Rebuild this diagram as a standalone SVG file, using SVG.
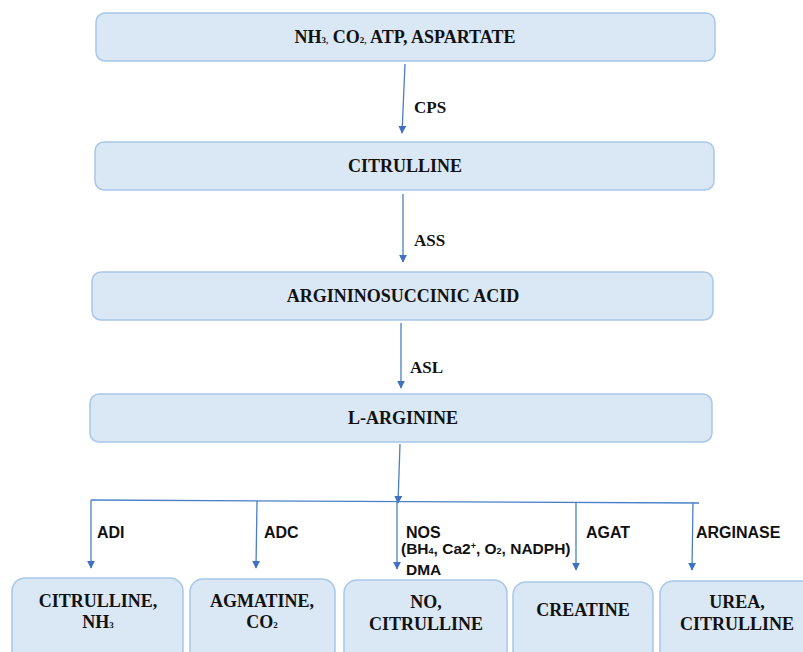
<svg xmlns="http://www.w3.org/2000/svg" width="803" height="652" viewBox="0 0 803 652">
<style>
.box{fill:#dae7f4;stroke:#a7c8e8;stroke-width:1.5}
.t{font-family:"Liberation Serif","Times New Roman",serif;font-weight:bold;font-size:18px;fill:#111;text-anchor:middle}
.lbl{font-family:"Liberation Serif","Times New Roman",serif;font-weight:bold;font-size:17px;fill:#111}
.sl{font-family:"Liberation Sans",Arial,sans-serif;font-weight:bold;font-size:16px;fill:#111}
.sm{font-family:"Liberation Sans",Arial,sans-serif;font-weight:bold;font-size:15.5px;fill:#111}
.c{fill:none;stroke:#4a7fc8;stroke-width:1.3}
</style>
<defs>
<marker id="ah" viewBox="0 0 10 10" refX="9" refY="5" markerWidth="8" markerHeight="8" markerUnits="userSpaceOnUse" orient="auto">
<path d="M0,0 L10,5 L0,10 Z" fill="#3d72c2"/>
</marker>
</defs>
<rect width="803" height="652" fill="#fff"/>
<g id="n1"><rect class="box" x="96" y="13" width="619" height="48" rx="9"/>
<text class="t" x="405" y="43" font-size="18.5">NH<tspan font-size="9">3,</tspan> CO<tspan font-size="9">2,</tspan> ATP, ASPARTATE</text></g>
<g id="n2"><rect class="box" x="95" y="142" width="619" height="48" rx="9"/>
<text class="t" x="405" y="172">CITRULLINE</text></g>
<g id="n3"><rect class="box" x="92" y="272" width="621" height="48" rx="9"/>
<text class="t" x="403" y="302">ARGININOSUCCINIC ACID</text></g>
<g id="n4"><rect class="box" x="90" y="394" width="622" height="48" rx="9"/>
<text class="t" x="403" y="424">L-ARGININE</text></g>
<g id="n5"><rect class="box" x="12" y="578" width="171" height="90" rx="13"/>
<text class="t" x="98" y="607">CITRULLINE,</text>
<text class="t" x="98" y="628">NH<tspan font-size="9">3</tspan></text></g>
<g id="n6"><rect class="box" x="190" y="579" width="145" height="90" rx="13"/>
<text class="t" x="262" y="607">AGMATINE,</text>
<text class="t" x="262" y="628">CO<tspan font-size="9">2</tspan></text></g>
<g id="n7"><rect class="box" x="344" y="580" width="163" height="90" rx="13"/>
<text class="t" x="426" y="608">NO,</text>
<text class="t" x="426" y="630">CITRULLINE</text></g>
<g id="n8"><rect class="box" x="513" y="582" width="140" height="90" rx="13"/>
<text class="t" x="583" y="616">CREATINE</text></g>
<g id="n9"><rect class="box" x="660" y="581" width="160" height="90" rx="13"/>
<text class="t" x="737" y="608">UREA,</text>
<text class="t" x="737" y="630">CITRULLINE</text></g>
<g id="connectors">
<path class="c" d="M405,64 L402,133" marker-end="url(#ah)"/>
<path class="c" d="M403,194 L403,262" marker-end="url(#ah)"/>
<path class="c" d="M401,323 L401,388" marker-end="url(#ah)"/>
<path class="c" d="M400,444 L398,503" marker-end="url(#ah)"/>
<path class="c" d="M91,500 L699,503"/>
<path class="c" d="M91,500 L91,568" marker-end="url(#ah)"/>
<path class="c" d="M257,501 L256,568" marker-end="url(#ah)"/>
<path class="c" d="M397,502 L397,569" marker-end="url(#ah)"/>
<path class="c" d="M576,503 L576,570" marker-end="url(#ah)"/>
<path class="c" d="M693,503 L692,570" marker-end="url(#ah)"/>
<text class="lbl" x="414" y="113">CPS</text>
<text class="lbl" x="414" y="246">ASS</text>
<text class="lbl" x="410" y="373">ASL</text>
<text class="sl" x="97" y="538">ADI</text>
<text class="sl" x="264" y="538">ADC</text>
<text class="sl" x="406" y="538">NOS</text>
<text class="sm" x="401" y="554">(BH<tspan font-size="9">4</tspan>, Ca2<tspan font-size="9" dy="-5">+</tspan><tspan dy="5">, O</tspan><tspan font-size="9">2</tspan>, NADPH)</text>
<text class="sm" x="406" y="575">DMA</text>
<text class="sl" x="586" y="538">AGAT</text>
<text class="sl" x="696" y="538">ARGINASE</text>
</g>
</svg>
